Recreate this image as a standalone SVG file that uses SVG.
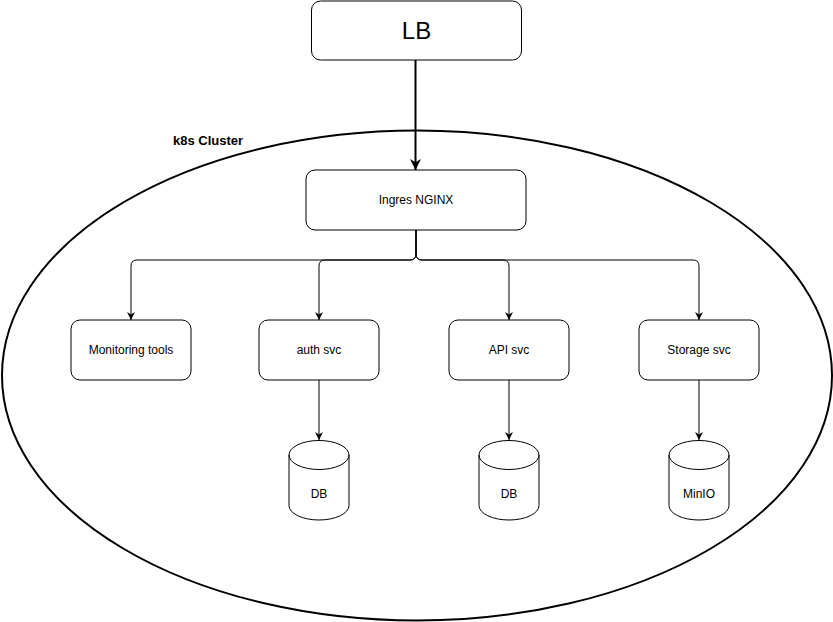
<svg xmlns="http://www.w3.org/2000/svg" width="833" height="622" viewBox="0 0 833 622">
<defs>
<style>
.box{fill:#fff;stroke:#000;stroke-width:1}
.lbl{font-family:"Liberation Sans",Arial,sans-serif;font-size:12px;fill:#000;text-anchor:middle;dominant-baseline:central}
.edge{fill:none;stroke:#000;stroke-width:1}
</style>
<marker id="arr" viewBox="0 0 10 10" refX="10" refY="5" markerWidth="8" markerHeight="8" markerUnits="userSpaceOnUse" orient="auto">
<path d="M0,0 L10,5 L0,10 L3,5 Z" fill="#000"/>
</marker>
<marker id="arr2" viewBox="0 0 10 10" refX="10" refY="5" markerWidth="11" markerHeight="11" markerUnits="userSpaceOnUse" orient="auto">
<path d="M0,0 L10,5 L0,10 L3,5 Z" fill="#000"/>
</marker>
</defs>
<rect width="833" height="622" fill="#fff"/>
<g id="cluster">
<ellipse cx="417" cy="375.5" rx="415" ry="245" fill="none" stroke="#000" stroke-width="2"/>
<text x="173" y="145" font-family="Liberation Sans,Arial,sans-serif" font-size="13" font-weight="bold">k8s Cluster</text>
</g>
<g id="connectors">
<path class="edge" d="M415.5,60 L415.5,170" stroke-width="2" style="stroke-width:2" marker-end="url(#arr2)"/>
<path class="edge" d="M416,230 L416,254 Q416,260 410,260 L137,260 Q131,260 131,266 L131,320" marker-end="url(#arr)"/>
<path class="edge" d="M416,230 L416,254 Q416,260 410,260 L325,260 Q319,260 319,266 L319,320" marker-end="url(#arr)"/>
<path class="edge" d="M416,230 L416,254 Q416,260 422,260 L503,260 Q509,260 509,266 L509,320" marker-end="url(#arr)"/>
<path class="edge" d="M416,230 L416,254 Q416,260 422,260 L693,260 Q699,260 699,266 L699,320" marker-end="url(#arr)"/>
<path class="edge" d="M319,380 L319,440" marker-end="url(#arr)"/>
<path class="edge" d="M509,380 L509,440" marker-end="url(#arr)"/>
<path class="edge" d="M699,380 L699,440" marker-end="url(#arr)"/>
</g>
<g id="lb">
<rect class="box" x="311.5" y="1" width="210" height="59" rx="9"/>
<text class="lbl" x="416.5" y="30.5" style="font-size:24px">LB</text>
</g>
<g id="ingress">
<rect class="box" x="306" y="170" width="220" height="60" rx="9"/>
<text class="lbl" x="416" y="200">Ingres NGINX</text>
</g>
<g id="monitoring">
<rect class="box" x="71" y="320" width="120" height="60" rx="9"/>
<text class="lbl" x="131" y="350">Monitoring tools</text>
</g>
<g id="auth">
<rect class="box" x="259" y="320" width="120" height="60" rx="9"/>
<text class="lbl" x="319" y="350">auth svc</text>
</g>
<g id="api">
<rect class="box" x="449" y="320" width="120" height="60" rx="9"/>
<text class="lbl" x="509" y="350">API svc</text>
</g>
<g id="storage">
<rect class="box" x="639" y="320" width="120" height="60" rx="9"/>
<text class="lbl" x="699" y="350">Storage svc</text>
</g>
<g id="db-auth">
<path class="box" d="M289,455 A30,14.5 0 0 1 349,455 L349,505.5 A30,14.5 0 0 1 289,505.5 Z"/>
<path class="edge" d="M289,455 A30,14.5 0 0 0 349,455"/>
<text class="lbl" x="319" y="494">DB</text>
</g>
<g id="db-api">
<path class="box" d="M479,455 A30,14.5 0 0 1 539,455 L539,505.5 A30,14.5 0 0 1 479,505.5 Z"/>
<path class="edge" d="M479,455 A30,14.5 0 0 0 539,455"/>
<text class="lbl" x="509" y="494">DB</text>
</g>
<g id="minio">
<path class="box" d="M669,455 A30,14.5 0 0 1 729,455 L729,505.5 A30,14.5 0 0 1 669,505.5 Z"/>
<path class="edge" d="M669,455 A30,14.5 0 0 0 729,455"/>
<text class="lbl" x="699" y="494">MinIO</text>
</g>
</svg>
